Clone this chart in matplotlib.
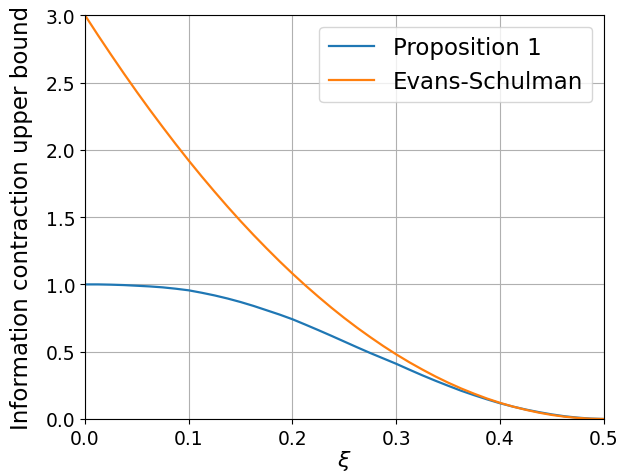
import matplotlib
matplotlib.use("Agg")
import matplotlib.pyplot as plt

# values
xi = [0.0, 0.0125, 0.025, 0.0375, 0.05, 0.0625, 0.075, 0.0875, 0.1, 0.1125,
      0.125, 0.1375, 0.15, 0.1625, 0.175, 0.1875, 0.2, 0.2125, 0.225, 0.2375,
      0.25, 0.2625, 0.275, 0.2875, 0.3, 0.3125, 0.325, 0.3375, 0.35, 0.3625,
      0.375, 0.3875, 0.4, 0.4125, 0.425, 0.4375, 0.45, 0.4625, 0.475, 0.4875, 0.5]
prop1 = [1.0, 1.0, 0.998, 0.995, 0.99, 0.985, 0.978, 0.968, 0.956, 0.938,
         0.918, 0.895, 0.869, 0.84, 0.808, 0.776, 0.741, 0.701, 0.66, 0.618,
         0.575, 0.532, 0.49, 0.45, 0.41, 0.367, 0.325, 0.285, 0.247, 0.21,
         0.177, 0.146, 0.117, 0.092, 0.07, 0.051, 0.034, 0.02, 0.01, 0.003, 0.0]
evans = [3.0, 2.852, 2.708, 2.567, 2.43, 2.297, 2.168, 2.042, 1.92, 1.802,
         1.688, 1.577, 1.47, 1.367, 1.268, 1.172, 1.08, 0.992, 0.908, 0.827,
         0.75, 0.677, 0.608, 0.542, 0.48, 0.422, 0.368, 0.317, 0.27, 0.227,
         0.188, 0.152, 0.12, 0.092, 0.068, 0.047, 0.03, 0.017, 0.008, 0.002, 0.0]

fig, ax = plt.subplots(figsize=(6.18, 4.77), dpi=100)
fig.subplots_adjust(left=0.1375, right=0.977, top=0.966, bottom=0.1195)

ax.plot(xi, prop1, label="Proposition 1", lw=1.6)
ax.plot(xi, evans, label="Evans-Schulman", lw=1.6)

ax.set_xlim(0, 0.5)
ax.set_ylim(0, 3.0)
ax.grid(True)
ax.tick_params(labelsize=13.5)
ax.set_xlabel(r"$\xi$", fontsize=16, labelpad=0)
ax.set_ylabel("Information contraction upper bound", fontsize=16.5, labelpad=9)
ax.legend(loc="upper right", fontsize=16.5)

fig.savefig("out.png")
